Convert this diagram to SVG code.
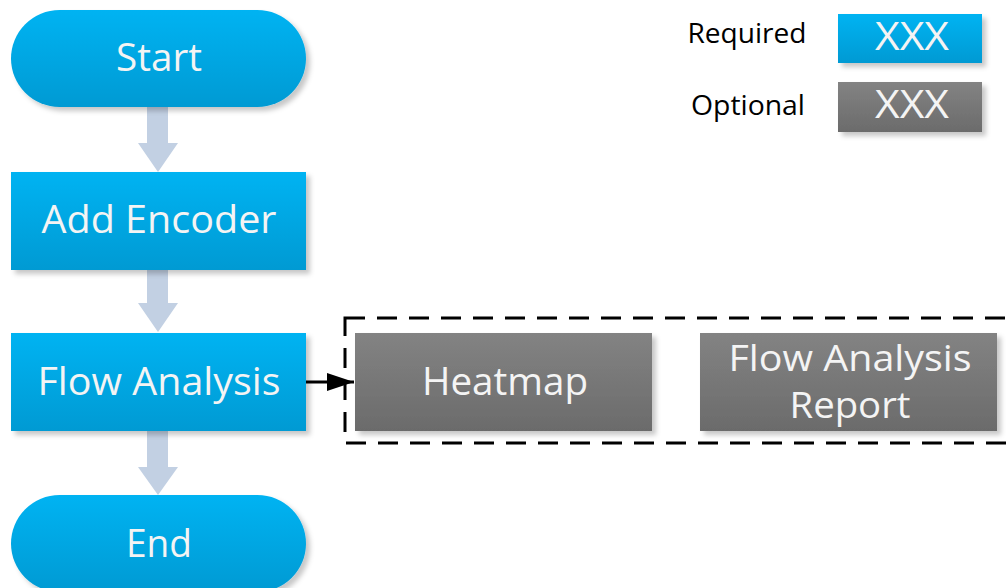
<svg xmlns="http://www.w3.org/2000/svg" width="1008" height="588" viewBox="0 0 1008 588">
<defs>
<linearGradient id="gBlue" x1="0" y1="0" x2="0" y2="1">
<stop offset="0" stop-color="#00b3f2"/>
<stop offset="1" stop-color="#009ad3"/>
</linearGradient>
<linearGradient id="gGray" x1="0" y1="0" x2="0" y2="1">
<stop offset="0" stop-color="#838383"/>
<stop offset="1" stop-color="#6b6b6b"/>
</linearGradient>
<filter id="sh" x="-10%" y="-10%" width="125%" height="130%">
<feDropShadow dx="4" dy="4" stdDeviation="2.5" flood-color="#000" flood-opacity="0.22"/>
</filter>
<marker id="ah" markerWidth="27" markerHeight="18" refX="27" refY="9" orient="auto" markerUnits="userSpaceOnUse">
<path d="M0,0 L27,9 L0,18 Z" fill="#000"/>
</marker>
</defs>
<style>
.blue{fill:url(#gBlue);filter:url(#sh)}
.gray{fill:url(#gGray);filter:url(#sh)}
.t{font-family:"Open Sans","Noto Sans",sans-serif;fill:#f4f4f4;text-anchor:middle;font-size:39px}
.t2{font-size:37px}
.lg{font-family:"Open Sans","Noto Sans",sans-serif;fill:#000;text-anchor:middle;font-size:28px}
.flow{fill:#c2d0e3}
</style>
<g id="connectors">
<path class="flow" d="M147,107 L168,107 L168,143 L178,143 L158,172 L138,143 L147,143 Z"/>
<path class="flow" d="M147,270 L168,270 L168,303 L178,303 L158,332 L138,303 L147,303 Z"/>
<path class="flow" d="M147,431 L168,431 L168,467 L178,467 L158,495 L138,467 L147,467 Z"/>
<line x1="306" y1="382" x2="354" y2="382" stroke="#000" stroke-width="3" marker-end="url(#ah)"/>
</g>
<g id="group-optional">
<rect x="345" y="318" width="700" height="125" fill="none" stroke="#000" stroke-width="3" stroke-dasharray="20,12"/>
</g>
<g id="start">
<rect class="blue" x="11" y="10" width="295" height="97" rx="48.5"/>
<text class="t" x="159" y="71" textLength="86" lengthAdjust="spacingAndGlyphs">Start</text>
</g>
<g id="add-encoder">
<rect class="blue" x="11" y="172" width="295" height="98"/>
<text class="t" x="159" y="233" textLength="235" lengthAdjust="spacingAndGlyphs">Add Encoder</text>
</g>
<g id="flow-analysis">
<rect class="blue" x="11" y="333" width="295" height="98"/>
<text class="t" x="159" y="395" textLength="243" lengthAdjust="spacingAndGlyphs">Flow Analysis</text>
</g>
<g id="end">
<rect class="blue" x="11" y="495" width="295" height="97" rx="48.5"/>
<text class="t" x="159" y="557" textLength="66" lengthAdjust="spacingAndGlyphs">End</text>
</g>
<g id="heatmap">
<rect class="gray" x="355" y="333" width="297" height="98"/>
<text class="t" x="505" y="395" textLength="166" lengthAdjust="spacingAndGlyphs">Heatmap</text>
</g>
<g id="flow-analysis-report">
<rect class="gray" x="700" y="333" width="297" height="98"/>
<text class="t t2" x="850" y="371" textLength="243" lengthAdjust="spacingAndGlyphs">Flow Analysis</text>
<text class="t t2" x="850" y="418" textLength="121" lengthAdjust="spacingAndGlyphs">Report</text>
</g>
<g id="legend-required">
<text class="lg" x="747" y="43" textLength="119" lengthAdjust="spacingAndGlyphs">Required</text>
<rect class="blue" x="838" y="14" width="144" height="49"/>
<text class="t" x="912" y="50" textLength="74" lengthAdjust="spacingAndGlyphs">XXX</text>
</g>
<g id="legend-optional">
<text class="lg" x="748" y="115" textLength="114" lengthAdjust="spacingAndGlyphs">Optional</text>
<rect class="gray" x="838" y="82" width="144" height="50"/>
<text class="t" x="912" y="118" textLength="74" lengthAdjust="spacingAndGlyphs">XXX</text>
</g>
</svg>
